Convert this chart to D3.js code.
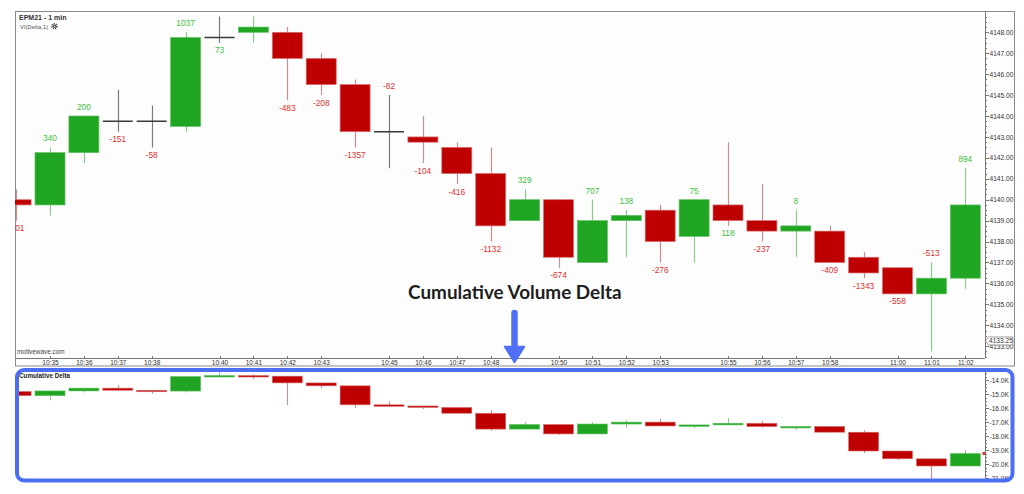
<!DOCTYPE html>
<html lang="en">
<head>
    <meta charset="UTF-8">
    <title>Cumulative Volume Delta</title>
    <script src="https://d3js.org/d3.v7.min.js"></script>
    <style>
        body { margin: 0; padding: 0; background: #fff; }
        svg { display: block; }
        .axis path, .axis line { stroke: #777; shape-rendering: crispEdges; }
        .axis text { fill: #333; font-family: "Liberation Sans", Arial, sans-serif; }
    </style>
</head>
<body>
<div id="chart"></div>
<script>
    // bar times (1 min bars)
    const times = ["10:34", "10:35", "10:36", "10:37", "10:38", "10:39", "10:40", "10:41", "10:42", "10:43",
        "10:44", "10:45", "10:46", "10:47", "10:48", "10:49", "10:50", "10:51", "10:52", "10:53",
        "10:54", "10:55", "10:56", "10:57", "10:58", "10:59", "11:00", "11:01", "11:02"];

    // labels shown on the time axis
    const timeTicks = ["10:35", "10:36", "10:37", "10:38", "10:40", "10:41", "10:42", "10:43", "10:45", "10:46",
        "10:47", "10:48", "10:50", "10:51", "10:52", "10:53", "10:55", "10:56", "10:57", "10:58",
        "11:00", "11:01", "11:02"];

    // price bars
    const open  = [4140.00, 4139.75, 4142.25, 4143.75, 4143.75, 4143.50, 4147.75, 4148.00, 4148.00, 4146.75,
        4145.50, 4143.25, 4143.00, 4142.50, 4141.25, 4139.00, 4140.00, 4137.00, 4139.00, 4139.50,
        4138.25, 4139.75, 4139.00, 4138.50, 4138.50, 4137.25, 4136.75, 4135.50, 4136.25];
    const high  = [4140.50, 4142.50, 4144.00, 4145.25, 4144.50, 4148.00, 4148.75, 4148.75, 4148.25, 4147.00,
        4145.75, 4145.00, 4144.00, 4142.75, 4142.50, 4140.50, 4140.00, 4140.00, 4139.50, 4139.75,
        4140.00, 4142.75, 4140.75, 4139.50, 4138.75, 4137.50, 4136.75, 4137.00, 4141.50];
    const low   = [4139.00, 4139.25, 4141.75, 4143.25, 4142.50, 4143.25, 4147.50, 4147.50, 4144.75, 4145.00,
        4142.50, 4141.50, 4141.75, 4140.75, 4138.00, 4139.00, 4136.75, 4137.00, 4137.25, 4137.00,
        4137.00, 4138.75, 4138.00, 4137.25, 4137.00, 4136.25, 4135.50, 4132.75, 4135.75];
    const close = [4139.75, 4142.25, 4144.00, 4143.75, 4143.75, 4147.75, 4147.75, 4148.25, 4146.75, 4145.50,
        4143.25, 4143.25, 4142.75, 4141.25, 4138.75, 4140.00, 4137.25, 4139.00, 4139.25, 4138.00,
        4140.00, 4139.00, 4138.50, 4138.75, 4137.00, 4136.50, 4135.50, 4136.25, 4139.75];

    // volume delta per bar
    const delta = [-301, 340, 200, -151, -58, 1037, 73, -45, -483, -208,
        -1357, -82, -104, -416, -1132, 329, -674, 707, 138, -276,
        75, 118, -237, 8, -409, -1343, -558, -513, 894];

    // doji bars whose delta label sits above the bar
    const dojiLabelAbove = ["10:45"];

    // cumulative delta bars
    const cdStart = -14820;
    const cdClose = [-15121, -14781, -14581, -14732, -14790, -13753, -13680, -13725, -14208, -14416,
        -15773, -15855, -15959, -16375, -17507, -17178, -17852, -17145, -17007, -17283,
        -17208, -17090, -17327, -17319, -17728, -19071, -19629, -20142, -19248];
    const cdHigh  = [-14820, -14781, -14581, -14380, -14732, -13753, -13450, -13590, -13725, -14208,
        -14416, -15521, -15855, -15959, -16164, -17000, -17178, -17021, -16900, -16786,
        -17208, -16738, -16929, -17319, -17319, -17595, -19071, -19629, -19000];
    const cdLow   = [-15121, -15450, -14900, -14732, -14980, -14900, -13753, -13930, -15786, -14595,
        -15976, -15855, -16071, -16375, -17621, -17507, -17907, -17852, -17405, -17283,
        -17450, -17208, -17405, -17571, -17728, -19238, -19714, -21100, -20190];

    const lastPrice = 4133.25;

    const W = 1024, H = 494;
    const GREEN = "#1fa521", RED = "#bf0000";
    const GREEN_TXT = "#3dbf3d", RED_TXT = "#e0302e";
    const GREEN_WICK = "#8cc98c", RED_WICK = "#c98f8f";

    const svg = d3.select("#chart").append("svg")
        .attr("width", W).attr("height", H)
        .style("font-family", "'Liberation Sans', Arial, sans-serif");

    const plotL = 15, plotR = 984.5;
    const mainTop = 12, mainBottom = 357.5;
    const lowTop = 371, lowBottom = 479;

    const x = d3.scalePoint().domain(times).range([16.1, 965.3]);
    const step = x.step();
    const bw = step * 0.885;

    const y = d3.scaleLinear().domain([4132.46, 4148.97]).range([mainBottom, mainTop]);
    const yc = d3.scaleLinear().domain([-21071, -13357]).range([lowBottom, lowTop]);

    const defs = svg.append("defs");
    defs.append("clipPath").attr("id", "clipMain").append("rect")
        .attr("x", plotL).attr("y", mainTop).attr("width", plotR - plotL).attr("height", mainBottom - mainTop);
    defs.append("clipPath").attr("id", "clipLow").append("rect")
        .attr("x", plotL).attr("y", lowTop).attr("width", plotR - plotL).attr("height", lowBottom - lowTop);

    // ---------- main (price) panel ----------
    svg.append("rect")
        .attr("x", plotL + 0.5).attr("y", 11.5).attr("width", 1014 - plotL).attr("height", 366 - 11.5)
        .attr("fill", "#fdfdfd").attr("stroke", "#8a8a8a");

    const bars = times.map((t, i) => ({
        t, o: open[i], h: high[i], l: low[i], c: close[i], d: delta[i]
    }));

    const gMain = svg.append("g").attr("clip-path", "url(#clipMain)");

    // wicks
    gMain.selectAll(".wick").data(bars).enter().append("line")
        .attr("x1", d => Math.round(x(d.t)) + 0.5).attr("x2", d => Math.round(x(d.t)) + 0.5)
        .attr("y1", d => y(d.h)).attr("y2", d => y(d.l))
        .attr("stroke", d => d.c > d.o ? GREEN_WICK : d.c < d.o ? RED_WICK : "#7a7a7a")
        .attr("stroke-width", 1.2);

    // bodies
    gMain.selectAll(".body").data(bars.filter(d => d.c !== d.o)).enter().append("rect")
        .attr("x", d => x(d.t) - bw / 2)
        .attr("y", d => y(Math.max(d.o, d.c)))
        .attr("width", bw)
        .attr("height", d => Math.abs(y(d.o) - y(d.c)))
        .attr("fill", d => d.c > d.o ? GREEN : RED)
        .attr("stroke", d => d.c > d.o ? "#62c062" : "#d67070")
        .attr("stroke-width", 0.7);

    // doji bars
    gMain.selectAll(".doji").data(bars.filter(d => d.c === d.o)).enter().append("line")
        .attr("x1", d => x(d.t) - bw / 2).attr("x2", d => x(d.t) + bw / 2)
        .attr("y1", d => y(d.c)).attr("y2", d => y(d.c))
        .attr("stroke", "#3a3a3a").attr("stroke-width", 1.5);

    // delta labels
    function labelAbove(d) {
        if (d.c > d.o) return true;
        if (d.c < d.o) return false;
        return dojiLabelAbove.includes(d.t);
    }
    gMain.selectAll(".dlabel").data(bars).enter().append("text")
        .attr("x", d => x(d.t))
        .attr("y", d => labelAbove(d) ? y(d.h) - 6 : y(d.l) + 10.5)
        .attr("text-anchor", "middle")
        .attr("font-size", 8.3)
        .attr("fill", d => d.d >= 0 ? GREEN_TXT : RED_TXT)
        .text(d => d.d);

    // price axis
    const majors = d3.range(4133, 4149, 1);
    const minors = d3.range(4132.5, 4149, 0.25).filter(v => v % 1 !== 0);
    svg.append("g").attr("class", "axis").attr("transform", `translate(${plotR},0)`)
        .call(d3.axisRight(y).tickValues(minors).tickSize(2).tickFormat(""))
        .call(g => g.select(".domain").attr("d", `M0.5,${mainTop}V${mainBottom}`));
    svg.append("g").attr("class", "axis").attr("transform", `translate(${plotR},0)`)
        .call(d3.axisRight(y).tickValues(majors).tickSize(4).tickPadding(1).tickFormat(d3.format(".2f")))
        .call(g => g.select(".domain").remove())
        .call(g => g.selectAll("text").attr("font-size", 6.6));

    // last price tag
    const lp = y(lastPrice);
    svg.append("path")
        .attr("d", `M${plotR + 1},${lp} L${plotR + 4},${lp - 4} H1013 V${lp + 4} H${plotR + 4} Z`)
        .attr("fill", "#fff").attr("stroke", "#777").attr("stroke-width", 0.7);
    svg.append("text").attr("x", plotR + 4.5).attr("y", lp + 2.4)
        .attr("font-size", 6.6).attr("fill", "#333").text(lastPrice.toFixed(2));

    // time axis
    svg.append("g").attr("class", "axis").attr("transform", `translate(0,${mainBottom + 0.5})`)
        .call(d3.axisBottom(x).tickValues(timeTicks).tickSizeInner(-2.5).tickSizeOuter(0).tickPadding(2.5))
        .call(g => g.select(".domain").attr("d", `M${plotL},0.5H${plotR}`))
        .call(g => g.selectAll("text").attr("font-size", 6.5).attr("dy", "0.71em"));

    // titles
    svg.append("text").attr("x", 19).attr("y", 19.5)
        .attr("font-size", 7).attr("font-weight", "bold").attr("fill", "#333").text("EPM21 - 1 min");
    svg.append("text").attr("x", 20).attr("y", 28.5)
        .attr("font-size", 5.9).attr("fill", "#555").text("VI(Delta,1)");
    const gear = svg.append("g").attr("transform", "translate(54.5,26.2)");
    gear.append("circle").attr("r", 2.4).attr("fill", "none").attr("stroke", "#444")
        .attr("stroke-width", 1.6).attr("stroke-dasharray", "1.1,0.8");
    gear.append("circle").attr("r", 1.6).attr("fill", "#444");
    gear.append("circle").attr("r", 0.7).attr("fill", "#fff");

    svg.append("text").attr("x", 17).attr("y", 354)
        .attr("font-size", 6.4).attr("fill", "#444").text("motivewave.com");

    // ---------- cumulative delta panel ----------
    const cd = times.map((t, i) => ({
        t, o: i === 0 ? cdStart : cdClose[i - 1], c: cdClose[i], h: cdHigh[i], l: cdLow[i]
    }));

    svg.append("rect").attr("x", plotL).attr("y", 368).attr("width", 1014 - plotL).attr("height", 114)
        .attr("fill", "#fff");

    const gLow = svg.append("g").attr("clip-path", "url(#clipLow)");
    gLow.selectAll(".cwick").data(cd).enter().append("line")
        .attr("x1", d => Math.round(x(d.t)) + 0.5).attr("x2", d => Math.round(x(d.t)) + 0.5)
        .attr("y1", d => yc(d.h)).attr("y2", d => yc(d.l))
        .attr("stroke", d => d.c > d.o ? GREEN_WICK : RED_WICK)
        .attr("stroke-width", 1.1);
    gLow.selectAll(".cbody").data(cd).enter().append("rect")
        .attr("x", d => x(d.t) - bw / 2)
        .attr("y", d => yc(Math.max(d.o, d.c)))
        .attr("width", bw)
        .attr("height", d => Math.max(1.5, Math.abs(yc(d.o) - yc(d.c))))
        .attr("fill", d => d.c > d.o ? GREEN : RED)
        .attr("stroke", d => d.c > d.o ? "#62c062" : "#d67070")
        .attr("stroke-width", 0.6);

    // cumulative delta axis
    const cdMajors = d3.range(-21000, -13999, 1000);
    const cdMinors = d3.range(-21000, -13250, 250).filter(v => v % 1000 !== 0);
    svg.append("g").attr("class", "axis").attr("transform", `translate(${plotR},0)`)
        .call(d3.axisRight(yc).tickValues(cdMinors).tickSize(2).tickFormat(""))
        .call(g => g.select(".domain").attr("d", `M0.5,${lowTop}V${lowBottom}`));
    svg.append("g").attr("class", "axis").attr("transform", `translate(${plotR},0)`)
        .call(d3.axisRight(yc).tickValues(cdMajors).tickSize(4).tickPadding(1)
            .tickFormat(d => (d / 1000).toFixed(1) + "K"))
        .call(g => g.select(".domain").remove())
        .call(g => g.selectAll("text").attr("font-size", 6.6));

    // last cumulative value marker
    svg.append("rect").attr("x", plotR - 2).attr("y", yc(cdClose[cdClose.length - 1]) - 1.5)
        .attr("width", 2.5).attr("height", 3).attr("fill", "#e03030");

    svg.append("text").attr("x", 19).attr("y", 377.8)
        .attr("font-size", 6.3).attr("font-weight", "bold").attr("fill", "#222").text("Cumulative Delta");

    // blue highlight frame
    svg.append("rect").attr("x", 17).attr("y", 370).attr("width", 995.5).attr("height", 110.5)
        .attr("rx", 7).attr("fill", "none").attr("stroke", "#4c6ef5").attr("stroke-width", 4);

    // ---------- annotation ----------
    svg.append("text").attr("x", 514.8).attr("y", 298.5)
        .attr("text-anchor", "middle")
        .style("font-family", "Lato, 'Open Sans', sans-serif")
        .attr("font-weight", "bold").attr("font-size", 18.9).attr("fill", "#1e1e1e")
        .text("Cumulative Volume Delta");

    svg.append("line").attr("x1", 514.5).attr("x2", 514.5).attr("y1", 313).attr("y2", 350)
        .attr("stroke", "#4f6ff6").attr("stroke-width", 6.5).attr("stroke-linecap", "round");
    svg.append("path").attr("d", "M504.5,346.5 L524.5,346.5 L514.5,362.5 Z")
        .attr("fill", "#4f6ff6").attr("stroke", "#4f6ff6").attr("stroke-width", 1.5)
        .attr("stroke-linejoin", "round");
</script>
</body>
</html>
